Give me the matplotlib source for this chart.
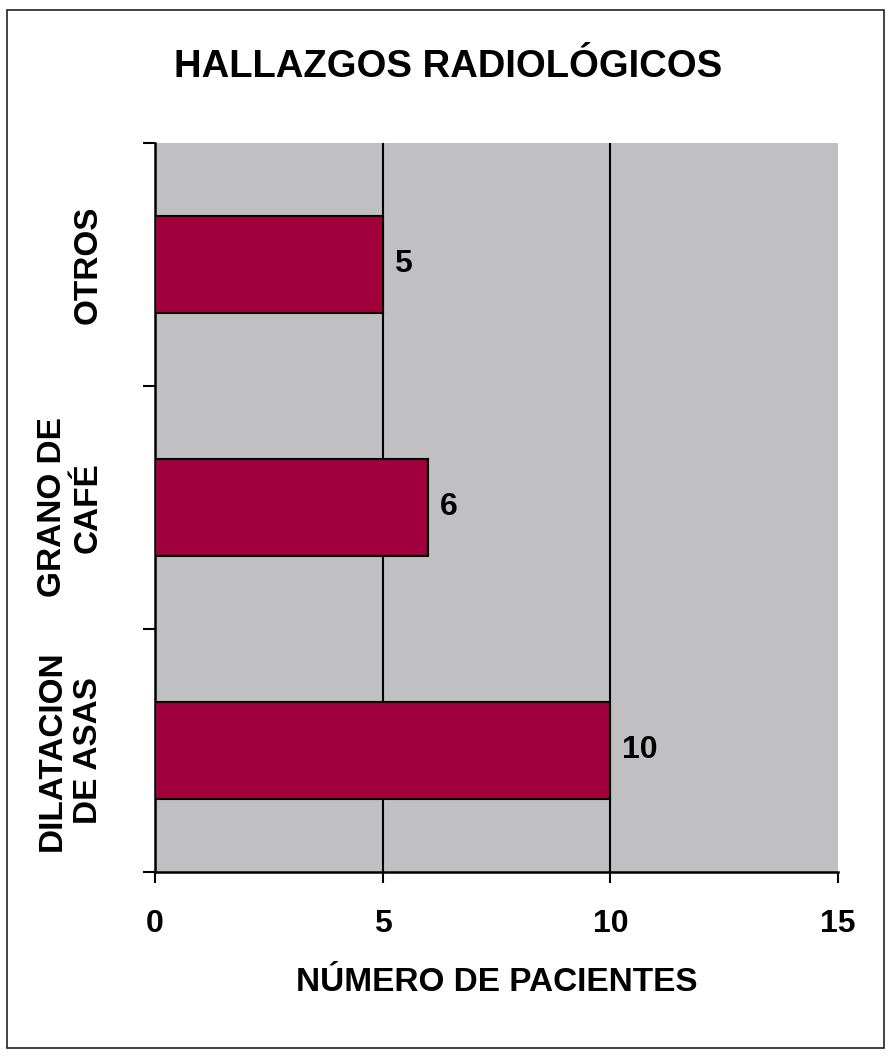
import matplotlib
matplotlib.use("Agg")
import matplotlib.pyplot as plt
from matplotlib.patches import Rectangle

categories = ["DILATACION\nDE ASAS", "GRANO DE\nCAFÉ", "OTROS"]
values = [10, 6, 5]
x_ticks = [0, 5, 10, 15]
title = "HALLAZGOS RADIOLÓGICOS"
xlabel = "NÚMERO DE PACIENTES"

plt.rcParams['font.family'] = ['Liberation Sans', 'DejaVu Sans']
plt.rcParams['font.weight'] = 'bold'

W, H = 889, 1057
fig = plt.figure(figsize=(W / 100, H / 100), dpi=100)
fig.patch.set_facecolor('white')

# outer frame
fig.patches.append(Rectangle((7 / W, 9 / H), (884 - 7) / W, (1047 - 9) / H,
                             transform=fig.transFigure, fill=False,
                             edgecolor='#222222', linewidth=1.2))

ax = fig.add_axes([155 / W, 1 - 872 / H, (838 - 155) / W, (872 - 143) / H])
ax.set_facecolor('#c0c0c2')

ypos = list(range(len(categories)))
ax.barh(ypos, values, height=0.40, color='#a0003c', edgecolor='black',
        linewidth=1.5, zorder=3)

for y, v in zip(ypos, values):
    ax.text(v + 0.25, y, str(v), va='center', ha='left', fontsize=23,
            fontweight='bold', color='black', zorder=4)

ax.set_xlim(0, 15)
ax.set_ylim(-0.5, len(categories) - 0.5)

ax.set_xticks(x_ticks)
ax.set_xticklabels([str(t) for t in x_ticks], fontsize=23, fontweight='bold')
ax.tick_params(axis='x', direction='out', length=8, width=1.5, pad=19,
               colors='black')

for t in x_ticks[1:-1]:
    ax.axvline(t, color='black', linewidth=1.5, zorder=2)

# category boundaries as major ticks, labels as minor ticks
ax.set_yticks([i - 0.5 for i in range(len(categories) + 1)])
ax.set_yticklabels([])
ax.tick_params(axis='y', which='major', direction='out', length=9, width=1.5)
ax.set_yticks(ypos, minor=True)
ax.set_yticklabels(categories, minor=True, rotation=90, fontsize=24,
                   fontweight='bold', va='center', ha='right',
                   multialignment='center')
ax.tick_params(axis='y', which='minor', length=0, pad=37)

ax.set_xlabel(xlabel, fontsize=24, fontweight='bold', labelpad=20)

for s in ['top', 'right']:
    ax.spines[s].set_visible(False)
for s in ['left', 'bottom']:
    ax.spines[s].set_linewidth(1.8)
    ax.spines[s].set_color('black')

fig.text(448 / W, 1 - 67 / H, title, ha='center', va='center', fontsize=27.5,
         fontweight='bold', color='black')

fig.savefig('out.png', dpi=100, facecolor='white')
